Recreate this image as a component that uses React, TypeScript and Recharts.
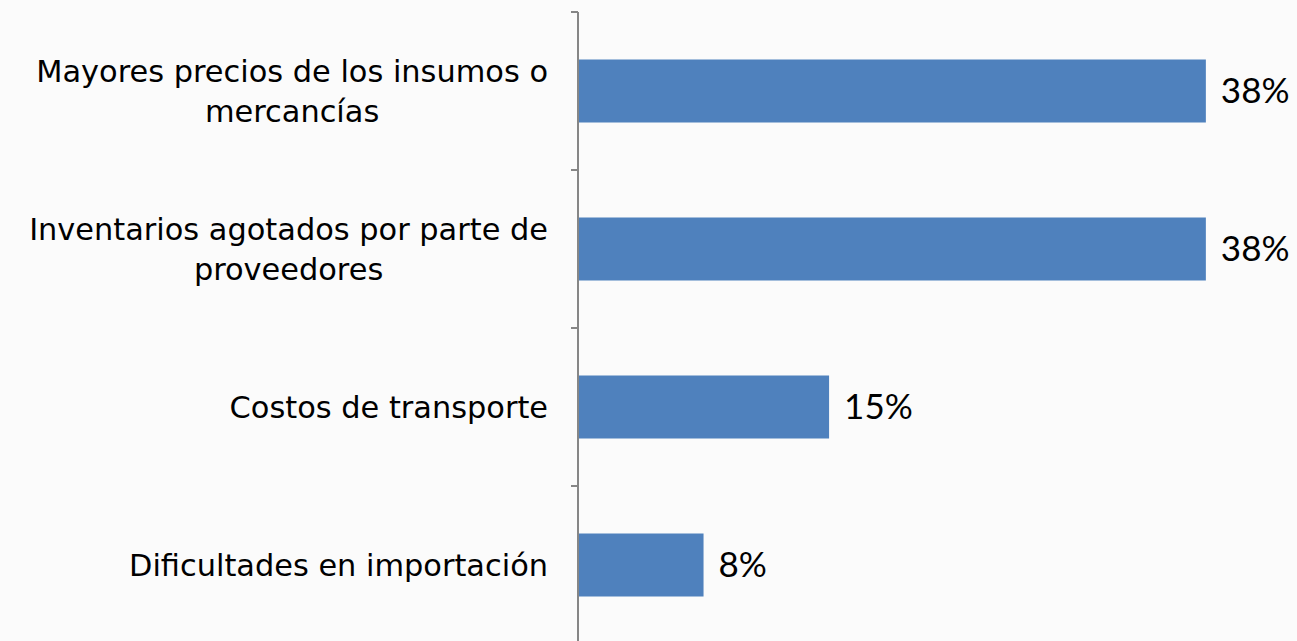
import { BarChart, Bar, XAxis, YAxis, LabelList } from "recharts";

const categorias = [
  "Mayores precios de los insumos o|mercancías",
  "Inventarios agotados por parte de|proveedores",
  "Costos de transporte",
  "Dificultades en importación",
];
const porcentajes = [38.46, 38.46, 15.38, 7.69];

const data = categorias.map((c, i) => ({ causa: c, valor: porcentajes[i] }));

const FONT_EJE = "'DejaVu Sans', sans-serif";
const TAM_EJE = 30.4;
const FONT_VALOR = "Lato, 'Noto Sans', sans-serif";
const TAM_VALOR = 35;
const MARGEN_SUP = 12;
const ALTO_PLOT = 632;
const BANDA = ALTO_PLOT / categorias.length;
const INTERLINEA = 40;

let ctx: CanvasRenderingContext2D | null = null;
const medir = (t: string) => {
  if (!ctx) ctx = document.createElement("canvas").getContext("2d");
  if (!ctx) return t.length * 16;
  ctx.font = `${TAM_EJE}px ${FONT_EJE}`;
  return ctx.measureText(t).width;
};

// las marcas del eje van entre categorías, no en el centro
const TickCausa = ({ x, y, payload, index }: any) => {
  const lineas: string[] = String(payload.value).split("|");
  const ancho = Math.max(...lineas.map(medir));
  const cx = x - ancho / 2;
  const y0 = y - ((lineas.length - 1) * INTERLINEA) / 2;
  const ejeX = x + 30;
  return (
    <g>
      <line x1={ejeX - 7} x2={ejeX} y1={y - BANDA / 2} y2={y - BANDA / 2} stroke="#868686" strokeWidth={2} />
      {index === categorias.length - 1 && (
        <line x1={ejeX - 7} x2={ejeX} y1={y + BANDA / 2} y2={y + BANDA / 2} stroke="#868686" strokeWidth={2} />
      )}
      {lineas.map((l, i) => (
        <text
          key={i}
          x={cx}
          y={y0 + i * INTERLINEA}
          dy="0.36em"
          textAnchor="middle"
          fontFamily={FONT_EJE}
          fontSize={TAM_EJE}
          fill="#000"
        >
          {l}
        </text>
      ))}
    </g>
  );
};

export default function App() {
  return (
    <div style={{ position: "fixed", left: 0, top: 0, width: 1297, height: 641, overflow: "hidden", background: "#fbfbfb" }}>
      <BarChart
        width={1297}
        height={MARGEN_SUP + ALTO_PLOT + 1}
        data={data}
        layout="vertical"
        barCategoryGap="30%"
        margin={{ top: MARGEN_SUP, right: 66, bottom: 1, left: 0 }}
      >
        <XAxis type="number" domain={[0, 40]} hide />
        <YAxis
          type="category"
          dataKey="causa"
          width={578}
          tickLine={false}
          tickSize={7}
          tickMargin={23}
          stroke="#868686"
          strokeWidth={2}
          tick={<TickCausa />}
        />
        <Bar dataKey="valor" fill="#4f81bd" isAnimationActive={false}>
          <LabelList
            dataKey="valor"
            position="right"
            offset={15}
            formatter={(v: any) => `${Math.round(v)}%`}
            style={{ fontFamily: FONT_VALOR, fontSize: TAM_VALOR, fill: "#000" }}
          />
        </Bar>
      </BarChart>
    </div>
  );
}
